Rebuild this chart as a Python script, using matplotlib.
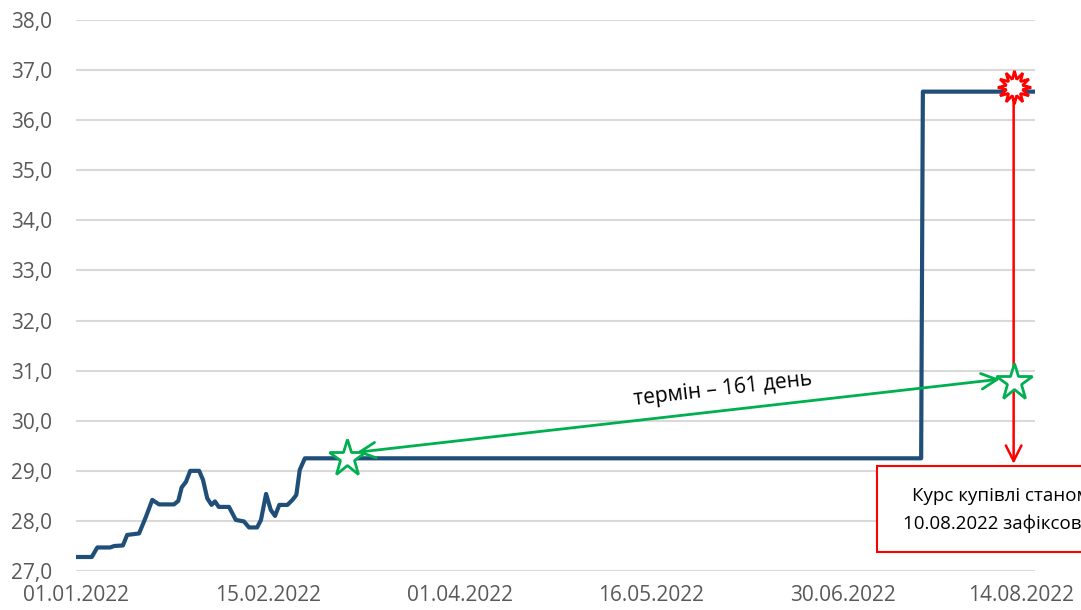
"""
Курс UAH/USD 2022 - графік з анотаціями (термін 161 день)
Output: out.png
"""

import matplotlib
matplotlib.use("Agg")
import matplotlib.pyplot as plt
import matplotlib.patches as mpatches
import matplotlib.transforms as mtransforms

# Дані: день від 01.01.2022 та курс
days = [0, 3.7, 5, 8, 9, 11, 12, 14.8, 16.4, 17.9, 19.5, 23, 24, 24.8, 25.8,
        26.8, 28.9, 29.8, 30.8, 31.8, 32.6, 33.5, 35.9, 37.5, 39.4, 40.6,
        42.5, 43.4, 44.6, 45.7, 46.7, 47.7, 49.6, 50.8, 51.7, 52.5, 53.7,
        198.3, 198.7, 225]
rates = [27.28, 27.28, 27.47, 27.47, 27.50, 27.51, 27.72, 27.75, 28.08, 28.42,
         28.33, 28.33, 28.40, 28.67, 28.78, 29.00, 29.00, 28.82, 28.45, 28.32,
         28.39, 28.28, 28.28, 28.02, 27.99, 27.87, 27.87, 28.02, 28.54, 28.22,
         28.10, 28.32, 28.32, 28.42, 28.52, 29.02, 29.25, 29.25, 36.57, 36.57]

tick_days = [0, 45, 90, 135, 180, 225]
tick_labels = ["01.01.2022", "15.02.2022", "01.04.2022", "16.05.2022",
               "30.06.2022", "14.08.2022"]
y_ticks = list(range(27, 39))

# Анотації
start_day, start_rate = 63.5, 29.25      # початок терміну
fix_day, fix_rate = 220, 30.78           # зафіксований курс
peak_rate = 36.67                        # курс на 14.08
term_text = "термін – 161 день"
box_lines = ["Курс купівлі станом на", "10.08.2022 зафіксовано"]

COLORS = {
    "line": "#1f4e79",
    "grid": "#d9d9d9",
    "text": "#595959",
    "green": "#00b050",
    "red": "#ff0000",
}

plt.rcParams["font.family"] = ["Open Sans", "DejaVu Sans"]

fig = plt.figure(figsize=(10.81, 6.10), dpi=100)
ax = fig.add_axes([0.0703, 0.0639, 0.8871, 0.9033])

ax.plot(days, rates, color=COLORS["line"], lw=3, solid_joinstyle="round",
        solid_capstyle="round", zorder=3)

ax.set_xlim(0, 225)
ax.set_ylim(27, 38)
ax.set_yticks(y_ticks)
ax.set_yticklabels([f"{v:.1f}".replace(".", ",") for v in y_ticks])
ax.set_xticks(tick_days)
ax.set_xticklabels(tick_labels)
ax.tick_params(axis="both", length=0, colors=COLORS["text"], labelsize=15)
ax.tick_params(axis="y", pad=17)
ax.tick_params(axis="x", pad=10)
ax.yaxis.grid(True, color=COLORS["grid"], lw=1.5)
ax.set_axisbelow(True)
for s in ax.spines.values():
    s.set_visible(False)

# останню мітку зсунути вліво, щоб влізла (як в Excel)
last = ax.get_xticklabels()[-1]
last.set_transform(last.get_transform() +
                   mtransforms.ScaledTranslation(-14 / 100, 0, fig.dpi_scale_trans))

# Зелена стрілка (термін)
ax.annotate("", xy=(216.8, 30.83), xytext=(65.9, 29.37),
            arrowprops=dict(arrowstyle="<->", color=COLORS["green"], lw=2,
                            mutation_scale=28, shrinkA=0, shrinkB=0),
            zorder=4)
ax.text(151.8, 30.62, term_text, rotation=6.5, ha="center", va="center",
        fontsize=15, color="black", rotation_mode="anchor")

# Червона стрілка вниз
ax.annotate("", xy=(fix_day, 29.14), xytext=(fix_day, peak_rate),
            arrowprops=dict(arrowstyle="->", color=COLORS["red"], lw=1.8,
                            mutation_scale=28, shrinkA=0, shrinkB=0),
            zorder=4)

# Маркери
ax.plot([start_day], [start_rate], marker="*", ms=28, mfc="white",
        mec=COLORS["green"], mew=2, zorder=5)
ax.plot([fix_day], [fix_rate], marker="*", ms=28, mfc="white",
        mec=COLORS["green"], mew=2, zorder=5)
ax.plot([fix_day], [peak_rate], marker=(12, 1, 0), ms=24, mfc="white",
        mec=COLORS["red"], mew=2, zorder=5)

# Текстове поле
box = mpatches.Rectangle((187.9, 27.38), 80, 1.72, facecolor="white",
                         edgecolor=COLORS["red"], lw=1.5, clip_on=False,
                         zorder=6)
ax.add_patch(box)
ax.text(196.2, 28.49, box_lines[0], ha="left", va="center", fontsize=13.5,
        color="black", zorder=7, clip_on=False)
ax.text(194.1, 27.94, box_lines[1], ha="left", va="center", fontsize=13.5,
        color="black", zorder=7, clip_on=False)

fig.savefig("out.png", dpi=100, facecolor="white")
plt.close(fig)
